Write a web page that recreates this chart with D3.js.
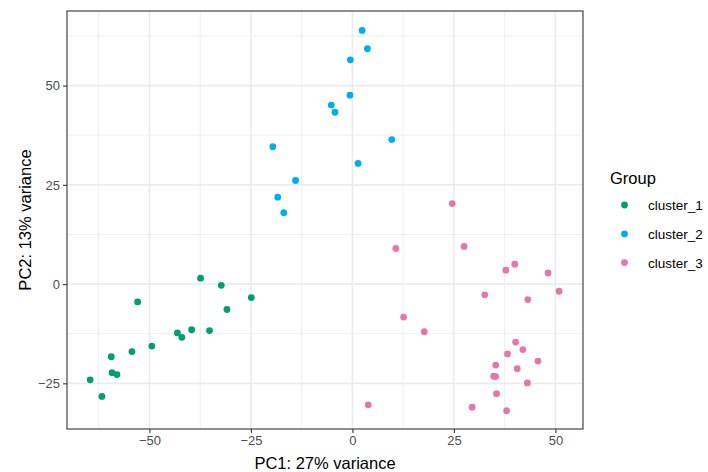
<!DOCTYPE html>
<html>
<head>
<meta charset="utf-8">
<script src="https://cdn.jsdelivr.net/npm/d3@7"></script>
<style>
  body { margin: 0; background: #fff; }
  text { font-family: "Liberation Sans", Arial, sans-serif; }
</style>
</head>
<body>
<div id="container"></div>
<script>
/* CONSTANTS AND GLOBALS */
const width = 708,
  height = 472,
  margin = { top: 11, bottom: 43, left: 67, right: 125 },
  radius = 3.4;

/* DATA */
const groups = ["cluster_1", "cluster_2", "cluster_3"];
const colors = ["#009E73", "#00AEEF", "#E277AA"];

const cluster1 = [
  [-37.4, 1.5], [-32.3, -0.3], [-24.9, -3.4], [-52.9, -4.5], [-30.9, -6.4],
  [-43.1, -12.3], [-39.6, -11.5], [-42.0, -13.4], [-35.2, -11.7], [-49.4, -15.6],
  [-54.3, -17.0], [-59.4, -18.3], [-59.2, -22.3], [-58.0, -22.8], [-64.6, -24.1],
  [-61.7, -28.3]
];
const cluster2 = [
  [-0.5, 56.5], [-0.6, 47.6], [-5.2, 45.1], [-4.3, 43.3], [-19.6, 34.6],
  [-14.0, 26.1], [-18.4, 21.9], [-16.9, 18.0], [1.4, 30.4], [2.4, 63.9],
  [3.7, 59.3], [9.7, 36.4]
];
const cluster3 = [
  [24.6, 20.3], [10.7, 9.0], [27.5, 9.5], [40.0, 5.0], [37.8, 3.5],
  [48.2, 2.8], [50.9, -1.8], [32.6, -2.7], [43.2, -3.9], [12.6, -8.3],
  [17.7, -12.0], [40.2, -14.6], [42.0, -16.5], [38.2, -17.6], [45.7, -19.4],
  [35.3, -20.4], [40.6, -21.3], [34.8, -23.2], [35.3, -23.3], [43.1, -24.9],
  [35.5, -27.6], [3.9, -30.4], [29.5, -31.0], [38.0, -31.9]
];

const xTicks = [-50, -25, 0, 25, 50];
const yTicks = [-25, 0, 25, 50];
const xMinor = [-62.5, -37.5, -12.5, 12.5, 37.5];
const yMinor = [-12.5, 12.5, 37.5, 62.5];

const data = [cluster1, cluster2, cluster3].flatMap((pts, i) =>
  pts.map(p => ({ x: p[0], y: p[1], group: groups[i] })));

/* SCALES */
const xScale = d3.scaleLinear()
  .domain([-70.3, 56.8])
  .range([margin.left, width - margin.right]);

const yScale = d3.scaleLinear()
  .domain([-36.5, 68.8])
  .range([height - margin.bottom, margin.top]);

const colorScale = d3.scaleOrdinal().domain(groups).range(colors);

/* SVG */
const svg = d3.select("#container")
  .append("svg")
  .attr("width", width)
  .attr("height", height);

const x0 = margin.left, x1 = width - margin.right;
const y0 = margin.top, y1 = height - margin.bottom;

// grid
const grid = svg.append("g");
grid.selectAll(".vminor").data(xMinor).join("line")
  .attr("x1", d => xScale(d)).attr("x2", d => xScale(d))
  .attr("y1", y0).attr("y2", y1)
  .attr("stroke", "#EBEBEB").attr("stroke-width", 0.8);
grid.selectAll(".hminor").data(yMinor).join("line")
  .attr("y1", d => yScale(d)).attr("y2", d => yScale(d))
  .attr("x1", x0).attr("x2", x1)
  .attr("stroke", "#EBEBEB").attr("stroke-width", 0.8);
grid.selectAll(".vmajor").data(xTicks).join("line")
  .attr("x1", d => xScale(d)).attr("x2", d => xScale(d))
  .attr("y1", y0).attr("y2", y1)
  .attr("stroke", "#EBEBEB").attr("stroke-width", 1.6);
grid.selectAll(".hmajor").data(yTicks).join("line")
  .attr("y1", d => yScale(d)).attr("y2", d => yScale(d))
  .attr("x1", x0).attr("x2", x1)
  .attr("stroke", "#EBEBEB").attr("stroke-width", 1.6);

// AXES
const xAxis = d3.axisBottom(xScale).tickValues(xTicks).tickSize(4).tickPadding(3).tickFormat(d3.format("d"));
const yAxis = d3.axisLeft(yScale).tickValues(yTicks).tickSize(4).tickPadding(3).tickFormat(d3.format("d"));

const xAxisGroup = svg.append("g")
  .attr("transform", `translate(0, ${y1})`)
  .call(xAxis);
const yAxisGroup = svg.append("g")
  .attr("transform", `translate(${x0}, 0)`)
  .call(yAxis);

[xAxisGroup, yAxisGroup].forEach(g => {
  g.select(".domain").remove();
  g.selectAll(".tick line").attr("stroke", "#333333").attr("stroke-width", 1.1);
  g.selectAll(".tick text")
    .attr("fill", "#4D4D4D")
    .style("font-size", "13px")
    .style("font-family", "Liberation Sans, Arial, sans-serif");
});

// points
svg.append("g").selectAll("circle")
  .data(data)
  .join("circle")
  .attr("cx", d => xScale(d.x))
  .attr("cy", d => yScale(d.y))
  .attr("r", radius)
  .attr("fill", d => colorScale(d.group));

// panel border
svg.append("rect")
  .attr("x", x0).attr("y", y0)
  .attr("width", x1 - x0).attr("height", y1 - y0)
  .attr("fill", "none")
  .attr("stroke", "#333333")
  .attr("stroke-width", 1.1);

// axis titles
svg.append("text")
  .attr("x", (x0 + x1) / 2)
  .attr("y", 469)
  .attr("text-anchor", "middle")
  .style("font-size", "16.5px")
  .attr("fill", "#000")
  .text("PC1: 27% variance");

svg.append("text")
  .attr("transform", `translate(31, ${(y0 + y1) / 2}) rotate(-90)`)
  .attr("text-anchor", "middle")
  .style("font-size", "16.5px")
  .attr("fill", "#000")
  .text("PC2: 13% variance");

// LEGEND
const legend = svg.append("g");
legend.append("text")
  .attr("x", 610)
  .attr("y", 184)
  .style("font-size", "16.5px")
  .attr("fill", "#000")
  .text("Group");

const items = legend.selectAll(".item")
  .data(groups)
  .join("g")
  .attr("transform", (d, i) => `translate(0, ${205 + i * 28.8})`);

items.append("circle")
  .attr("cx", 624.5)
  .attr("cy", 0)
  .attr("r", radius)
  .attr("fill", d => colorScale(d));

items.append("text")
  .attr("x", 648)
  .attr("y", 5)
  .style("font-size", "13.5px")
  .attr("fill", "#000")
  .text(d => d);
</script>
</body>
</html>
